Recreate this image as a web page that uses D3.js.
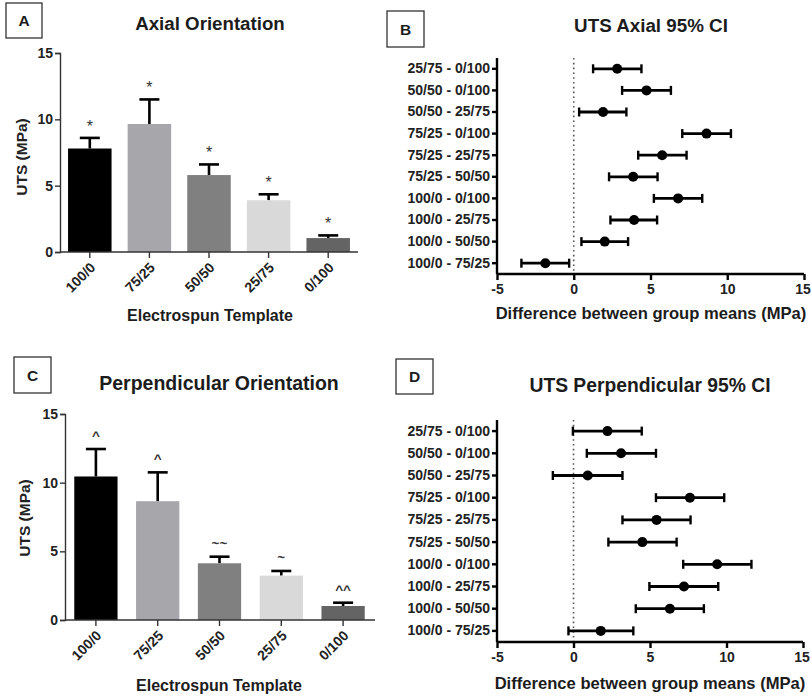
<!DOCTYPE html>
<html>
<head>
<meta charset="utf-8">
<script src="https://d3js.org/d3.v7.min.js"></script>
<style>
  html, body { margin: 0; padding: 0; background: #fff; }
</style>
</head>
<body>
<svg id="chart" width="811" height="696"></svg>
<script>
// bar panels (A, C)
const templates = ['100/0', '75/25', '50/50', '25/75', '0/100'];
const barColors = ['#000000', '#a7a7ab', '#808080', '#d9d9d9', '#646464'];
const axialMean = [7.8, 9.65, 5.8, 3.9, 1.05];
const axialSD = [0.8, 1.85, 0.8, 0.45, 0.2];
const axialMarks = ['*', '*', '*', '*', '*'];
const perpMean = [10.45, 8.65, 4.13, 3.23, 1.02];
const perpSD = [2.0, 2.1, 0.48, 0.34, 0.24];
const perpMarks = ['^', '^', '~~', '~', '^^'];
const utsTicks = [0, 5, 10, 15];

// CI panels (B, D)
const comparisons = ['25/75 - 0/100', '50/50 - 0/100', '50/50 - 25/75', '75/25 - 0/100', '75/25 - 25/75',
  '75/25 - 50/50', '100/0 - 0/100', '100/0 - 25/75', '100/0 - 50/50', '100/0 - 75/25'];
const axialDiff = [2.83, 4.74, 1.91, 8.65, 5.76, 3.87, 6.8, 3.93, 2.02, -1.85];
const axialLo = [1.26, 3.15, 0.35, 7.07, 4.2, 2.3, 5.22, 2.39, 0.5, -3.41];
const axialHi = [4.41, 6.33, 3.43, 10.24, 7.35, 5.46, 8.37, 5.43, 3.54, -0.3];
const perpDiff = [2.22, 3.11, 0.93, 7.61, 5.43, 4.5, 9.39, 7.22, 6.3, 1.78];
const perpLo = [-0.04, 0.87, -1.35, 5.39, 3.2, 2.28, 7.17, 4.96, 4.07, -0.33];
const perpHi = [4.46, 5.39, 3.2, 9.85, 7.65, 6.74, 11.63, 9.46, 8.52, 3.91];
const diffTicks = [-5, 0, 5, 10, 15];

const FONT = '"Liberation Sans", Arial, sans-serif';
const svg = d3.select('#chart');

function label(g, txt, x, y, size, weight) {
  return g.append('text').attr('x', x).attr('y', y).attr('text-anchor', 'middle')
    .attr('font-size', size).attr('font-weight', weight || 'bold').attr('fill', '#1c1c1c')
    .style('font-family', FONT).text(txt);
}

function panelLabel(letter, x, y, w, h) {
  svg.append('rect').attr('x', x).attr('y', y).attr('width', w).attr('height', h)
    .attr('fill', 'none').attr('stroke', '#333').attr('stroke-width', 1.3);
  label(svg, letter, x + w / 2, y + h / 2 + 5.5, 15.5);
}

function styleAxis(a, color, width, size) {
  a.select('.domain').attr('stroke', color).attr('stroke-width', width);
  a.selectAll('.tick line').attr('stroke', color).attr('stroke-width', width);
  a.selectAll('text').attr('font-size', size).attr('font-weight', 'bold').attr('fill', '#222')
    .style('font-family', FONT);
}

function barPanel(p) {
  const x = d3.scaleBand().domain(templates).range([p.x0, p.x1]).paddingInner(p.pad).paddingOuter(p.pad / 2);
  const y = d3.scaleLinear().domain([0, 15]).range([p.yBottom, p.yTop]);
  const g = svg.append('g');

  label(g, p.title, p.titleX, p.titleY, p.titleSize);

  const rows = templates.map((t, i) => ({ t, m: p.mean[i], sd: p.sd[i], mark: p.marks[i], c: barColors[i] }));
  const cx = d => x(d.t) + x.bandwidth() / 2;

  // upper error bars first, the bar hides the lower half
  g.selectAll('.eb').data(rows).join('line')
    .attr('x1', cx).attr('x2', cx)
    .attr('y1', d => y(d.m)).attr('y2', d => y(d.m + d.sd))
    .attr('stroke', '#000').attr('stroke-width', 2.6);
  g.selectAll('.cap').data(rows).join('line')
    .attr('x1', d => cx(d) - 10).attr('x2', d => cx(d) + 10)
    .attr('y1', d => y(d.m + d.sd)).attr('y2', d => y(d.m + d.sd))
    .attr('stroke', '#000').attr('stroke-width', 2.6);

  g.selectAll('.bar').data(rows).join('rect')
    .attr('x', d => x(d.t)).attr('width', x.bandwidth())
    .attr('y', d => y(d.m)).attr('height', d => y(0) - y(d.m))
    .attr('fill', d => d.c);

  g.selectAll('.mark').data(rows).join('text')
    .attr('x', cx).attr('y', d => y(d.m + d.sd) - (d.mark === '*' ? 6 : 9))
    .attr('text-anchor', 'middle').attr('font-size', d => d.mark === '*' ? 16 : 13.5)
    .attr('font-weight', d => d.mark === '*' ? 'normal' : 'bold')
    .attr('fill', '#333').style('font-family', FONT).text(d => d.mark);

  const yAxis = g.append('g').attr('transform', `translate(${p.x0},0)`)
    .call(d3.axisLeft(y).tickValues(utsTicks).tickSize(5).tickPadding(2));
  const xAxis = g.append('g').attr('transform', `translate(0,${p.yBottom})`)
    .call(d3.axisBottom(x).tickSize(6).tickSizeOuter(0));
  styleAxis(yAxis, '#333', 1.4, 14);
  styleAxis(xAxis, '#333', 1.4, 14);
  xAxis.selectAll('text').attr('x', 0).attr('y', 0).attr('dy', '0.35em')
    .attr('transform', 'translate(3,13) rotate(-45)').attr('text-anchor', 'end');
  xAxis.select('.domain').attr('d', `M${p.x0},0H${p.axisEnd}`);

  g.append('text').attr('transform', `translate(${p.yLabelX},${p.yLabelY}) rotate(-90)`)
    .attr('text-anchor', 'middle').attr('font-size', 15.5).attr('font-weight', 'bold').attr('fill', '#222')
    .style('font-family', FONT).text('UTS (MPa)');
  label(g, 'Electrospun Template', p.titleX, p.xLabelY, 16);
}

function ciPanel(p) {
  const x = d3.scaleLinear().domain([-5, 15]).range([p.x0, p.x1]);
  const y = d3.scaleBand().domain(comparisons).range([p.yTop, p.yBottom]);
  const cy = d => y(d) + y.bandwidth() / 2;
  const g = svg.append('g');

  label(g, p.title, p.titleX, p.titleY, p.titleSize, p.titleWeight);

  g.append('line').attr('x1', x(0)).attr('x2', x(0)).attr('y1', p.yTop).attr('y2', p.yBottom)
    .attr('stroke', '#555').attr('stroke-width', 1.6).attr('stroke-dasharray', '1.6,3.2');

  const rows = comparisons.map((c, i) => ({ c, m: p.diff[i], lo: p.lo[i], hi: p.hi[i] }));
  g.selectAll('.ci').data(rows).join('line')
    .attr('x1', d => x(d.lo)).attr('x2', d => x(d.hi)).attr('y1', d => cy(d.c)).attr('y2', d => cy(d.c))
    .attr('stroke', '#000').attr('stroke-width', 2.8);
  ['lo', 'hi'].forEach(k => {
    g.selectAll('.cap-' + k).data(rows).join('line')
      .attr('x1', d => x(d[k])).attr('x2', d => x(d[k]))
      .attr('y1', d => cy(d.c) - 4.5).attr('y2', d => cy(d.c) + 4.5)
      .attr('stroke', '#000').attr('stroke-width', 2.4);
  });
  g.selectAll('.pt').data(rows).join('circle')
    .attr('cx', d => x(d.m)).attr('cy', d => cy(d.c)).attr('r', 5).attr('fill', '#000');

  const yAxis = g.append('g').attr('transform', `translate(${p.x0},0)`)
    .call(d3.axisLeft(y).tickSize(5).tickSizeOuter(0).tickPadding(2));
  const xAxis = g.append('g').attr('transform', `translate(0,${p.yBottom})`)
    .call(d3.axisBottom(x).tickValues(diffTicks).tickFormat(d => String(d))
      .tickSize(6).tickSizeOuter(0).tickPadding(4));
  styleAxis(yAxis, '#000', 2.4, 14);
  styleAxis(xAxis, '#000', 2.4, 14);
  // keep the last tick label inside the page edge
  xAxis.selectAll('.tick text').filter(d => d === 15).attr('dx', -1.5);
  yAxis.select('.domain').attr('d', `M0,${p.yTop}V${p.yBottom}`);
  xAxis.select('.domain').attr('d', `M${p.x0},0H${p.x1}`);

  label(g, 'Difference between group means (MPa)', p.titleX, p.xLabelY, 16.6);
}

panelLabel('A', 6, 3, 36, 35);
panelLabel('B', 387, 11, 37, 36);
panelLabel('C', 14, 357, 37, 36);
panelLabel('D', 396, 359, 37, 35);

barPanel({ title: 'Axial Orientation', titleSize: 18.7, mean: axialMean, sd: axialSD, marks: axialMarks,
  x0: 60, x1: 358, axisEnd: 358, pad: 0.27, yTop: 53, yBottom: 252,
  titleX: 210, titleY: 30, yLabelX: 27, yLabelY: 157, xLabelY: 321 });
barPanel({ title: 'Perpendicular Orientation', titleSize: 19.5, mean: perpMean, sd: perpSD, marks: perpMarks,
  x0: 65, x1: 374, axisEnd: 375, pad: 0.3, yTop: 414, yBottom: 620,
  titleX: 219, titleY: 390, yLabelX: 30, yLabelY: 518, xLabelY: 691 });

ciPanel({ title: 'UTS Axial 95% CI', titleSize: 18.8, titleWeight: 'bold', diff: axialDiff, lo: axialLo, hi: axialHi,
  x0: 497, x1: 804, yTop: 58, yBottom: 274, titleX: 651, titleY: 32, xLabelY: 319 });
ciPanel({ title: 'UTS Perpendicular 95% CI', titleSize: 19.3, titleWeight: 'bold', diff: perpDiff, lo: perpLo, hi: perpHi,
  x0: 497, x1: 803, yTop: 420, yBottom: 642, titleX: 650, titleY: 392, xLabelY: 689 });
</script>
</body>
</html>
